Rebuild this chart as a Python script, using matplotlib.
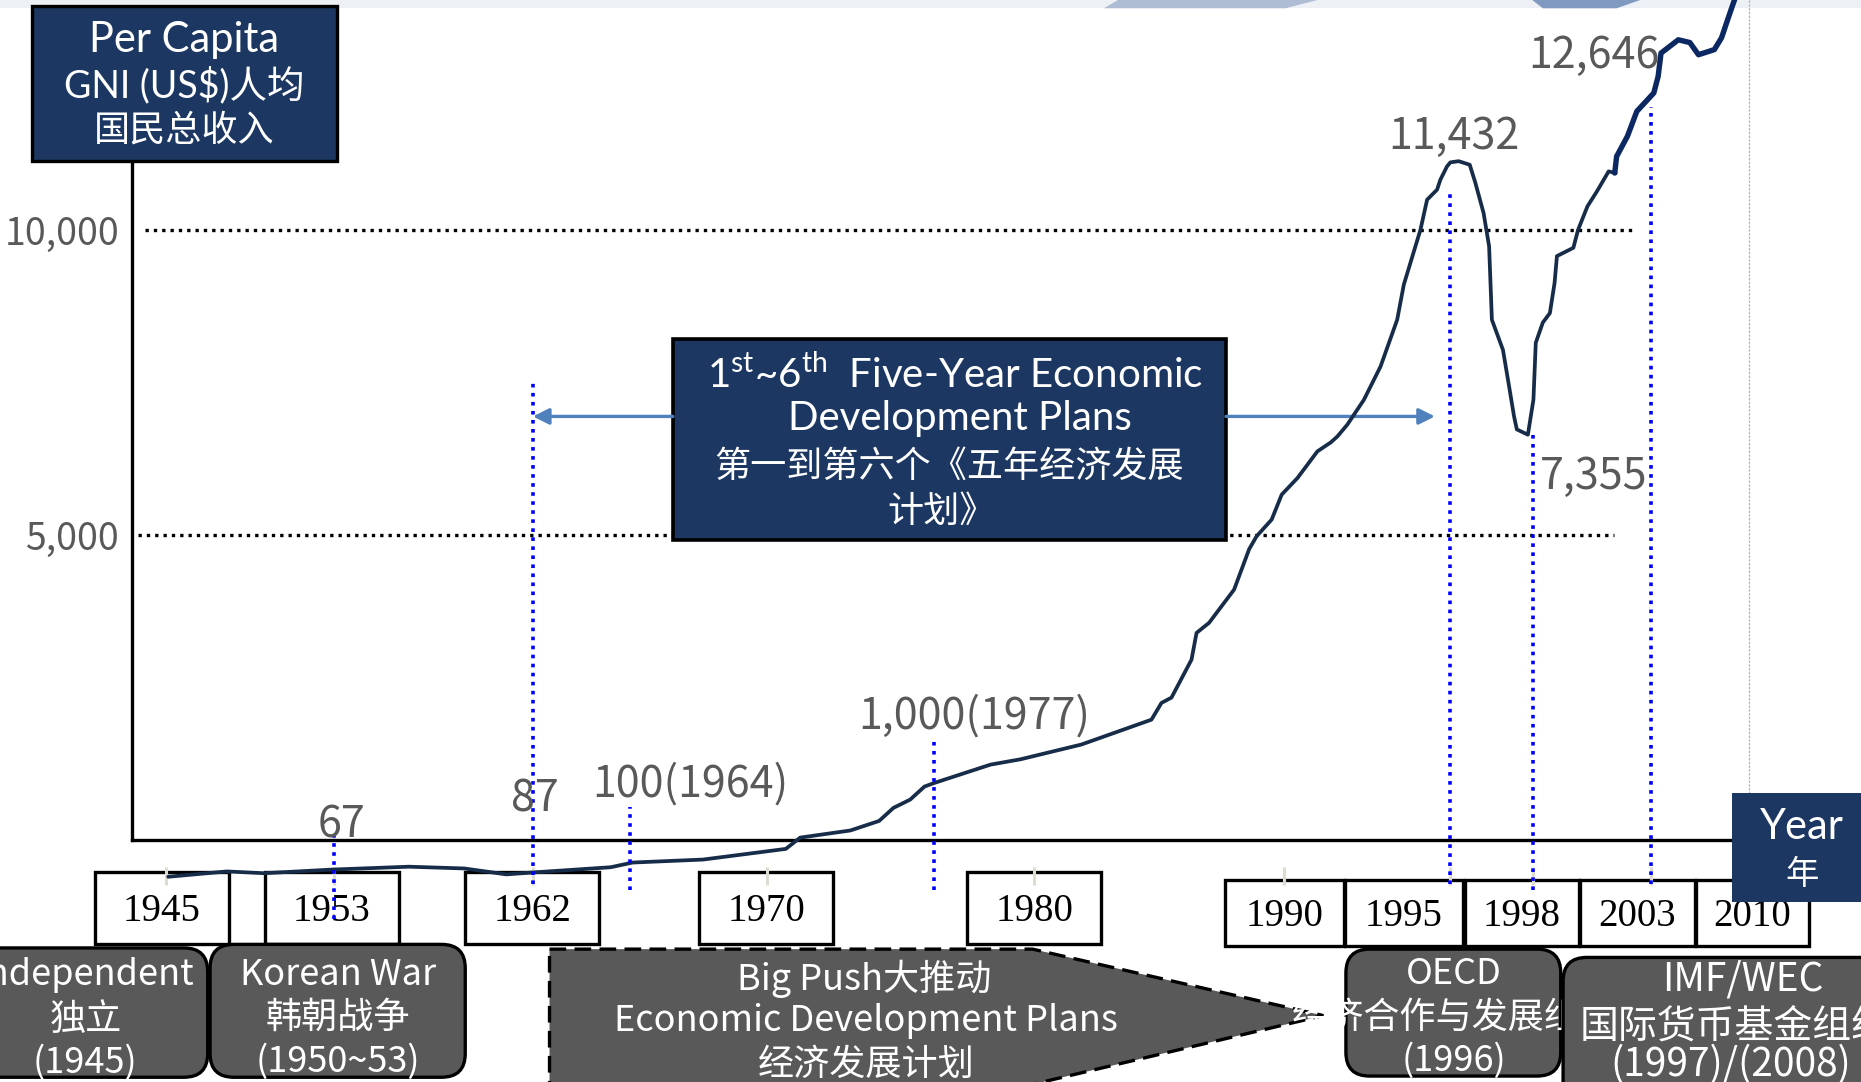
import numpy as np
import matplotlib
matplotlib.use("Agg")
import matplotlib.pyplot as plt
import matplotlib.transforms as mtransforms
from matplotlib.patches import Rectangle, FancyBboxPatch, Polygon, FancyArrowPatch

plt.rcParams['font.family'] = ['Noto Sans CJK SC', 'DejaVu Sans']
plt.rcParams['mathtext.fontset'] = 'custom'
plt.rcParams['mathtext.rm'] = 'Lato'

# ---- data -------------------------------------------------------------
GNI_YEARS = [1945.1, 1947.9, 1949.7, 1952.9, 1956.4, 1958.9, 1960.8, 1961.9,
             1963.6, 1964.1, 1967.2, 1970.8, 1971.4, 1973.5, 1974.7, 1975.3,
             1976.0, 1976.6, 1977.0, 1978.7, 1979.6, 1981.9, 1984.7, 1985.1,
             1985.5, 1986.3, 1986.5, 1987.0, 1988.0, 1988.6, 1988.9, 1989.5,
             1989.9, 1990.4, 1991.0, 1991.4, 1991.6, 1991.9, 1992.4, 1992.9,
             1993.4, 1993.6, 1994.1, 1994.3, 1994.6, 1994.7, 1994.9, 1995.0,
             1995.3, 1995.7, 1995.9, 1996.2, 1996.4, 1996.5, 1996.9, 1997.1,
             1997.3, 1997.4, 1997.8, 1998.0, 1998.1, 1998.4, 1998.7, 1998.9,
             1999.0, 1999.7, 1999.9, 2000.3, 2000.7, 2001.2, 2001.5]
GNI_VALUES = [-609, -522, -551, -492, -444, -473, -570, -541,
              -453, -376, -327, -152, 33, 150, 306, 520,
              656, 870, 928, 1230, 1317, 1559, 1967, 2242,
              2329, 2952, 3390, 3555, 4100, 4762, 4976, 5248,
              5657, 5930, 6367, 6513, 6611, 6805, 7214, 7759,
              8525, 9101, 10000, 10493, 10658, 10822, 11040, 11106,
              11125, 11067, 10775, 10275, 9728, 8525, 8031, 7490,
              6941, 6727, 6640, 7214, 8148, 8479, 8634, 9129,
              9569, 9705, 10000, 10386, 10629, 10958, 10931]

RECENT_YEARS = [2001.46, 2001.54, 2002.0, 2002.4, 2003.2, 2003.5, 2003.7, 2004.9,
                2005.7, 2006.3, 2007.4, 2007.9, 2008.4, 2008.8, 2009.0]
RECENT_VALUES = [10931, 11203, 11534, 11943, 12244, 12515, 12898, 13116,
                 13071, 12871, 12955, 13149, 13499, 13772, 13900]

TICK_YEARS = [1945, 1953, 1962, 1970, 1980, 1990, 1995, 1998, 2003, 2010]
YEAR_LABELS = ['1945', '1953', '1962', '1970', '1980',
               '1990', '1995', '1998', '2003', '2010']
Y_TICKS = [5000, 10000]
Y_TICK_LABELS = ['5,000', '10,000']

NOTE_YEARS = [1953, 1962, 1964, 1977, 1995, 1998, 2003]
NOTE_LABELS = ['67', '87', '100(1964)', '1,000(1977)', '11,432', '7,355', '12,646']

ERA_LINES = [
    ['Independent', '独立', '(1945)'],
    ['Korean War', '韩朝战争', '(1950~53)'],
    ['Big Push大推动', 'Economic Development Plans', '经济发展计划'],
    ['OECD', '经济合作与发展组织', '(1996)'],
    ['IMF/WEC', '国际货币基金组织', '(1997)/(2008)'],
]

# ---- layout (reference grid 1568 x 912) ------------------------------
W, H = 1568, 912
KNOT_YEARS = [1945, 1953, 1962, 1964, 1970, 1977, 1980, 1990, 1995, 1998, 2003, 2010]
KNOT_PX = [140, 281, 449, 531, 646, 787, 871, 1082, 1222, 1292, 1391, 1476]
Y0_PX, PX_PER_5000 = 707.7, 257.0

NAVY = '#1c3761'
GRAY_TXT = '#595959'
BOX_GRAY = '#595959'
LATO = ['Lato', 'Noto Sans CJK SC']
CJK = ['Noto Sans CJK SC', 'DejaVu Sans']


def _extrap(x, xs, ys):
    x = np.asarray(x, dtype=float)
    y = np.interp(x, xs, ys)
    lo = (ys[1] - ys[0]) / (xs[1] - xs[0])
    hi = (ys[-1] - ys[-2]) / (xs[-1] - xs[-2])
    y = np.where(x < xs[0], ys[0] + (x - xs[0]) * lo, y)
    y = np.where(x > xs[-1], ys[-1] + (x - xs[-1]) * hi, y)
    return y


def year_to_px(x):
    return _extrap(x, KNOT_YEARS, KNOT_PX)


def px_to_year(p):
    return _extrap(p, KNOT_PX, KNOT_YEARS)


def yr(p):
    return float(px_to_year(p))


def val(py):
    return (Y0_PX - py) * 5000 / PX_PER_5000


fig = plt.figure(figsize=(18.61, 10.82), dpi=100)
fig.patch.set_facecolor('white')
ax = fig.add_axes([0, 0, 1, 1])
ax.patch.set_alpha(0)
L = mtransforms.Affine2D().scale(1 / W, -1 / H).translate(0, 1) + fig.transFigure

ax.set_xscale('function', functions=(year_to_px, px_to_year))
ax.set_xlim(yr(0), yr(W))
ax.set_ylim(val(H), val(0))

# top banner strip
ax.add_patch(Rectangle((0, 0), W, 7, transform=L, color='#edf0f5', lw=0, zorder=0.5))
ax.add_patch(Polygon([(930, 7), (942, 0), (1110, 0), (1083, 7)], transform=L,
                     color='#aebdd4', lw=0, zorder=0.6))
ax.add_patch(Polygon([(1300, 7), (1291, 0), (1382, 0), (1362, 7)], transform=L,
                     color='#8099c0', lw=0, zorder=0.6))
ax.plot([1474, 1474], [0, 668], transform=L, color='#b5b5b5', lw=0.9,
        ls=(0, (2, 1)), zorder=0.7)

# dotted reference lines
ax.hlines(10000, yr(122), yr(1375), colors='black', linestyles=(0, (1, 1.5)),
          lw=2.4, zorder=1)
ax.hlines(5000, yr(116), yr(1360), colors='black', linestyles=(0, (1, 1.5)),
          lw=2.4, zorder=1)

# axes lines
for s in ['top', 'right']:
    ax.spines[s].set_visible(False)
ax.spines['left'].set_position(('data', yr(111)))
ax.spines['left'].set_bounds(0, val(136))
ax.spines['bottom'].set_position(('data', 0))
ax.spines['bottom'].set_bounds(yr(111), yr(1462))
for s in ['left', 'bottom']:
    ax.spines[s].set_linewidth(2.4)
    ax.spines[s].set_zorder(3)
ax.set_xticks([])
ax.set_yticks(Y_TICKS, Y_TICK_LABELS, fontsize=27, color=GRAY_TXT, family=CJK)
ax.tick_params(axis='y', length=0, pad=9)

# curve
ax.plot(GNI_YEARS, GNI_VALUES, color='#172c48', lw=2.7, solid_joinstyle='round',
        solid_capstyle='round', zorder=4)
ax.plot(RECENT_YEARS, RECENT_VALUES, color='#0c2862', lw=3.9, solid_joinstyle='round',
        solid_capstyle='round', zorder=4)

# year boxes along the timeline
BOX_X = [(80, 193), (223, 336), (392, 505), (589, 702), (815, 928),
         (1032, 1132), (1133, 1233), (1234, 1330), (1331, 1428), (1429, 1524)]
for i, (lab, (x0, x1)) in enumerate(zip(YEAR_LABELS, BOX_X)):
    y0, y1 = (735, 796) if i < 5 else (742, 797)
    ax.add_patch(Rectangle((x0, y0), x1 - x0, y1 - y0, transform=L, facecolor='white',
                           edgecolor='black', lw=2.4, zorder=2))
    ax.text((x0 + x1) / 2, (y0 + y1) / 2 + 3, lab, transform=L, ha='center', va='center',
            fontsize=28, family='Liberation Serif', color='black', zorder=2.5)

ax.vlines(TICK_YEARS, val(746), val(731), colors='#dcdcd0', lw=2.2, zorder=3.5)

# annotation lines and values
NOTE_SPAN = [(705, 775), (320, 745), (680, 750), (622, 750), (160, 745), (367, 750), (90, 745)]
NOTE_POS = [(288, 696), (451, 674), (582, 661), (821, 604), (1225, 115), (1343, 402), (1343, 47)]
ax.vlines(NOTE_YEARS, [val(b) for _, b in NOTE_SPAN], [val(t) for t, _ in NOTE_SPAN],
          colors='#0000ff', linestyles=(0, (1, 1.5)), lw=2.6, zorder=5)
for lab, (cx, cy) in zip(NOTE_LABELS, NOTE_POS):
    ax.text(cx, cy, lab, transform=L, ha='center', va='center', fontsize=31,
            color=GRAY_TXT, family=CJK, zorder=6)

# y-axis title box
ax.add_patch(Rectangle((27, 5), 257, 131, transform=L, facecolor=NAVY,
                       edgecolor='black', lw=2.4, zorder=7))
for s, y, fs in zip(['Per Capita', 'GNI (US$)人均', '国民总收入'], [34, 72, 109], [30, 27, 26]):
    ax.text(155, y, s, transform=L, ha='center', va='center', fontsize=fs,
            color='white', family=LATO, zorder=8)

# "Year" box
ax.add_patch(Rectangle((1459, 668), 120, 92, transform=L, facecolor=NAVY,
                       edgecolor='none', zorder=7))
ax.text(1518, 697, 'Year', transform=L, ha='center', va='center', fontsize=30,
        color='white', family=LATO, zorder=8)
ax.text(1518, 737, '年', transform=L, ha='center', va='center', fontsize=24,
        color='white', family=LATO, zorder=8)

# five-year plan box with arrows
ax.add_patch(Rectangle((567, 286), 466, 169, transform=L, facecolor=NAVY,
                       edgecolor='black', lw=2.6, zorder=2))
plan_lines = [r'1$^{\mathrm{st}}$~6$^{\mathrm{th}}$  Five-Year Economic',
              'Development Plans', '第一到第六个《五年经济发展', '计划》']
plan_pos = [(805, 316), (809, 353), (800, 393), (793, 431)]
for s, (x, y), fs in zip(plan_lines, plan_pos, [29, 29, 26, 26]):
    ax.text(x, y, s, transform=L, ha='center', va='center', fontsize=fs,
            color='white', family=LATO, zorder=3)
for x0, x1 in [(567, 449), (1033, 1209)]:
    ax.add_patch(FancyArrowPatch((x0, 351), (x1, 351), transform=L, arrowstyle='-|>',
                                 mutation_scale=24, color='#4f81bd', lw=2.4,
                                 shrinkA=0, shrinkB=0, zorder=2))

# era boxes below the timeline
ERA_BOX = [(-30, 799, 205, 109), (177, 796, 215, 112), None,
           (1134, 800, 181, 107), (1317, 807, 290, 130)]
ERA_TEXT = [[(72, 822), (72, 860), (72, 896)],
            [(285, 822), (285, 858), (285, 895)],
            [(728, 825), (730, 861), (730, 898)],
            [(1225, 821), (1225, 858), (1225, 894)],
            [(1468, 826), (1462, 865), (1458, 898)]]
ERA_FS = [26, 26, 26, 26, 28]
ERA_Z = [2.5, 2.5, 2.5, 2.3, 2.7]
for box, z in zip(ERA_BOX, ERA_Z):
    if box is None:
        continue
    x0, y0, w, h = box
    ax.add_patch(FancyBboxPatch((x0, y0), w, h, transform=L,
                                boxstyle='round,pad=0,rounding_size=20',
                                facecolor=BOX_GRAY, edgecolor='black', lw=2.4, zorder=z - 0.1))
ax.add_patch(Polygon([(463, 800), (870, 800), (1115, 856), (870, 914), (463, 914)],
                     closed=True, transform=L, facecolor=BOX_GRAY, edgecolor='black',
                     lw=2.4, ls=(0, (5, 2.5)), zorder=2.1))
for lines, pos, z, fs in zip(ERA_LINES, ERA_TEXT, ERA_Z, ERA_FS):
    for s, (x, y) in zip(lines, pos):
        ax.text(x, y, s, transform=L, ha='center', va='center', fontsize=fs,
                color='white', family=CJK, zorder=z)

fig.savefig('out.png', dpi=100)
